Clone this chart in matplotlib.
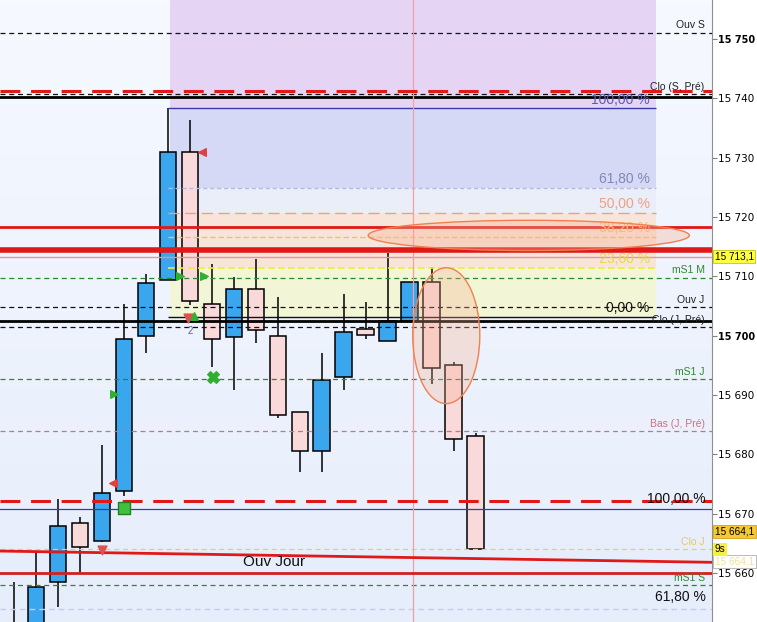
"""Intraday candlestick chart with pivot levels, Fibonacci zones and markers."""

import matplotlib.pyplot as plt
import numpy as np
from matplotlib.colors import LinearSegmentedColormap
from matplotlib.patches import Ellipse

# candles (index = bar number)
OPEN = [15648.0, 15647.0, 15658.4, 15668.5, 15665.4, 15673.9, 15700.0, 15709.4,
        15731.0, 15705.4, 15699.8, 15707.9, 15700.0, 15687.2, 15680.6, 15693.1,
        15701.1, 15699.1, 15702.5, 15709.1, 15695.1, 15683.1]
HIGH = [15658.4, 15663.6, 15672.5, 15669.5, 15681.5, 15705.4, 15710.4, 15738.3,
        15736.4, 15712.0, 15709.9, 15713.0, 15706.6, 15687.2, 15697.1, 15707.1,
        15705.6, 15714.0, 15709.1, 15711.6, 15695.6, 15683.6]
LOW = [15646.0, 15645.0, 15654.3, 15660.0, 15665.2, 15672.9, 15697.0, 15709.4,
       15705.1, 15694.8, 15690.9, 15698.8, 15686.2, 15677.1, 15677.1, 15690.9,
       15699.5, 15699.1, 15702.5, 15691.9, 15680.6, 15664.1]
CLOSE = [15650.5, 15657.7, 15668.0, 15664.4, 15673.4, 15699.5, 15708.9, 15731.0,
         15705.9, 15699.5, 15707.9, 15701.0, 15686.7, 15680.6, 15692.6, 15700.7,
         15700.1, 15702.5, 15709.1, 15694.6, 15682.6, 15664.1]

# named horizontal levels
LEVEL_NAMES = ["Ouv S", "Clo (S, Pré)", "mS1 M", "Ouv J", "Clo (J, Pré)",
               "mS1 J", "Bas (J, Pré)", "Clo J", "mS1 S"]
LEVEL_PRICES = [15751.1, 15740.8, 15709.8, 15704.9, 15701.5,
                15692.7, 15684.0, 15664.0, 15657.9]

# fibonacci retracement
FIB_HIGH = 15738.3
FIB_LOW = 15703.2
FIB_RATIOS = [1.0, 0.618, 0.5, 0.382, 0.236, 0.0]
FIB_LABELS = ["100,00 %", "61,80 %", "50,00 %", "38,20 %", "23,60 %", "0,00 %"]
FIB_START, FIB_END = 7.0, 29.18

# lower extension levels
EXT_PRICES = [15672.2, 15654.0]
EXT_LABELS = ["100,00 %", "61,80 %"]

# other drawn lines
RED_SOLID = [15718.4, 15714.5, 15660.0]
RED_DASH_TOP = 15741.3
BLACK_SOLID = [15740.3, 15702.4]
BLUE_LINE = 15670.8
LAST_PRICE = 15713.3
TREND_X = [-0.64, 31.73]
TREND_Y = [15663.7, 15661.8]
VLINE_X = 18.14

YTICKS = [15660, 15670, 15680, 15690, 15700, 15710, 15720, 15730, 15740, 15750]

# signal markers (bar index, price)
GREEN_TRI = [(7.55, 15710.1), (8.64, 15710.1), (4.55, 15690.2)]
RED_TRI = [(8.55, 15730.9), (4.5, 15675.2)]
GREEN_X = (9.05, 15693.1)
GREEN_SQ = (5.0, 15670.9)
RED_DOWN = [(4.0, 15663.9), (7.9, 15703.0)]
GREEN_UP = (8.18, 15703.3)

XMIN, XMAX = -0.636, 31.73
YMIN, YMAX = 15651.74, 15756.58

fig = plt.figure(figsize=(7.57, 6.22), dpi=100)
ax = fig.add_axes([0, 0, 712 / 757, 1])
plt.rcParams["font.family"] = ["Liberation Sans", "DejaVu Sans"]

# background gradient
bg = LinearSegmentedColormap.from_list("bg", ["#f6f9ff", "#e6edfb"])
ax.imshow(np.linspace(0, 1, 200).reshape(-1, 1), extent=[XMIN, XMAX, YMIN, YMAX],
          aspect="auto", cmap=bg, zorder=0)

# fibonacci zones
fib = [FIB_LOW + r * (FIB_HIGH - FIB_LOW) for r in FIB_RATIOS]
zone_x0 = 7.09
ax.fill_between([zone_x0, FIB_END], fib[0], YMAX, color="#e6d4f4", zorder=1, lw=0)
ax.fill_between([zone_x0, FIB_END], fib[1], fib[0], color="#d6d9f6", zorder=1, lw=0)
ax.fill_between([zone_x0, FIB_END], fib[2], fib[1], color="#eaeef9", zorder=1, lw=0)
ax.fill_between([zone_x0, FIB_END], fib[4], fib[2], color="#f8e5da", zorder=1, lw=0)
ax.fill_between([zone_x0, FIB_END], fib[5], fib[4], color="#f2f5d6", zorder=1, lw=0)

fib_styles = [
    dict(color="#3a3aa8", lw=1.0, ls="-"),
    dict(color="#b4bde0", lw=1.0, ls=(0, (3, 2))),
    dict(color="#f0a080", lw=1.0, ls=(0, (8, 4))),
    dict(color="#f0c070", lw=1.0, ls=(0, (4, 2))),
    dict(color="#eeee30", lw=1.2, ls=(0, (4, 2))),
    dict(color="#111111", lw=1.0, ls="-"),
]
fib_text = ["#5a5ac0", "#8088b4", "#f0a080", "#f4c068", "#e6d84a", "#111111"]
for lvl, sty, lab, tc in zip(fib, fib_styles, FIB_LABELS, fib_text):
    ax.hlines(lvl, FIB_START, FIB_END, zorder=4, **sty)
    ax.text(28.9, lvl + 0.3, lab, ha="right", va="bottom", fontsize=10,
            color=tc, zorder=6)

# candles
x = np.arange(len(OPEN))
o, c = np.array(OPEN), np.array(CLOSE)
up = c >= o
ax.vlines(x, LOW, HIGH, color="black", lw=1.1, zorder=2)
ax.bar(x, np.abs(c - o), bottom=np.minimum(o, c), width=0.77,
       color=np.where(up, "#3aa6ee", "#f9d9d9"), edgecolor="black",
       linewidth=1.1, zorder=3)

# named levels
for name, p in zip(LEVEL_NAMES, LEVEL_PRICES):
    if name.startswith("mS1"):
        col, tcol = "#2a8a2a", "#2a8a2a"
    elif name.startswith("Bas"):
        col, tcol = "#d07080", "#d07080"
    elif name == "Clo J":
        col, tcol = "#e8d060", "#e8c860"
    else:
        col, tcol = "#111111", "#222222"
    ax.axhline(p, color=col, lw=0.9, ls=(0, (4, 3)), zorder=4)
    ax.text(31.4, p + 0.35, name, ha="right", va="bottom", fontsize=7.5,
            color=tcol, zorder=6)

for p in BLACK_SOLID:
    ax.axhline(p, color="black", lw=2.0, zorder=4)

ax.axhline(RED_DASH_TOP, color="#e01818", lw=2.2, ls=(0, (6.5, 3.5)), zorder=5)
ax.axhline(EXT_PRICES[0], color="#e01818", lw=2.2, ls=(0, (6.5, 3.5)), zorder=5)
ax.axhline(EXT_PRICES[1], color="#c8cce8", lw=1.0, ls=(0, (4, 3)), zorder=4)
for p, lab in zip(EXT_PRICES, EXT_LABELS):
    ax.text(31.45, p + (0.35 if lab.startswith("1") else 0.7), lab, ha="right",
            va="center" if lab.startswith("1") else "bottom", fontsize=10,
            color="#111111", zorder=6)

ax.axhline(RED_SOLID[0], color="#e01818", lw=2.0, zorder=5)
ax.axhline(RED_SOLID[1], color="#e01818", lw=4.0, zorder=5)
ax.axhline(RED_SOLID[2], color="#d02020", lw=2.0, zorder=5)
ax.axhline(BLUE_LINE, color="#3040a0", lw=0.9, zorder=4)
ax.axhline(LAST_PRICE, color="#f09090", lw=1.0, zorder=4)
ax.plot(TREND_X, TREND_Y, color="#e01818", lw=2.0, zorder=5)
ax.text(11.8, 15661.8, "Ouv Jour", fontsize=11, ha="center", va="center",
        color="#111111", zorder=6)
ax.axvline(VLINE_X, color="#f0a0a0", lw=0.9, zorder=4)

# highlight ellipses
ax.add_patch(Ellipse((23.4, 15716.9), 14.6, 5.1, facecolor="#f8b090",
                     edgecolor="none", alpha=0.35, zorder=7))
ax.add_patch(Ellipse((23.4, 15716.9), 14.6, 5.1, fill=False,
                     edgecolor="#f08050", lw=1.0, zorder=7))
ax.add_patch(Ellipse((19.65, 15700.0), 3.05, 22.9, facecolor="#f8b090",
                     edgecolor="none", alpha=0.3, zorder=7))
ax.add_patch(Ellipse((19.65, 15700.0), 3.05, 22.9, fill=False,
                     edgecolor="#f08050", lw=1.0, zorder=7))

# signal markers
ax.scatter(*zip(*GREEN_TRI), marker=">", s=30, color="#30b030", zorder=8)
ax.scatter(*zip(*RED_TRI), marker="<", s=30, color="#e04040", zorder=8)
ax.scatter(*GREEN_X, marker="X", s=70, color="#30b030", zorder=8)
ax.scatter(*GREEN_SQ, marker="s", s=70, color="#40c040", edgecolor="#208020",
           zorder=8)
ax.scatter(*zip(*RED_DOWN), marker="v", s=40, color="#e05050", zorder=8)
ax.scatter(*GREEN_UP, marker="^", s=30, color="#30b030", zorder=8)
ax.text(8.0, 15700.8, "2", fontsize=7, color="#606080", ha="center",
        va="center", zorder=8)

ax.set_xlim(XMIN, XMAX)
ax.set_ylim(YMIN, YMAX)
ax.set_xticks([])
ax.yaxis.tick_right()
ax.set_yticks(YTICKS, [f"{v // 1000} {v % 1000:03d}" for v in YTICKS])
for t, v in zip(ax.get_yticklabels(), YTICKS):
    t.set_fontsize(7.0 if v % 50 == 0 else 7.5)
    t.set_fontweight("bold" if v % 50 == 0 else "normal")
ax.tick_params(axis="y", length=3.5, width=0.8, color="#808080", pad=1.0)
for side in ["left", "top", "bottom"]:
    ax.spines[side].set_visible(False)
ax.spines["right"].set_color("#909090")

# price boxes on the axis
ax.text(1.004, (LAST_PRICE - YMIN) / (YMAX - YMIN), "15 713,1",
        transform=ax.transAxes, fontsize=7.2, va="center", ha="left",
        clip_on=False, zorder=9,
        bbox=dict(boxstyle="square,pad=0.15", fc="#ffff40", ec="#c8c800", lw=0.6))
ax.text(1.004, (15667.0 - YMIN) / (YMAX - YMIN), "15 664,1",
        transform=ax.transAxes, fontsize=7.2, va="center", ha="left",
        clip_on=False, zorder=9,
        bbox=dict(boxstyle="square,pad=0.15", fc="#f8c830", ec="#d0a020", lw=0.6))
ax.text(1.004, (15662.0 - YMIN) / (YMAX - YMIN), "15 664,1",
        transform=ax.transAxes, fontsize=7.2, va="center", ha="left",
        color="#f0e0a0", clip_on=False, zorder=9,
        bbox=dict(boxstyle="square,pad=0.15", fc="#ffffff", ec="#b0b0b0", lw=0.6))
ax.text(1.004, (15664.0 - YMIN) / (YMAX - YMIN), "9s",
        transform=ax.transAxes, fontsize=7.2, va="center", ha="left",
        clip_on=False, zorder=10,
        bbox=dict(boxstyle="square,pad=0.15", fc="#f8f040", ec="none"))

fig.savefig("out.png", dpi=100)
